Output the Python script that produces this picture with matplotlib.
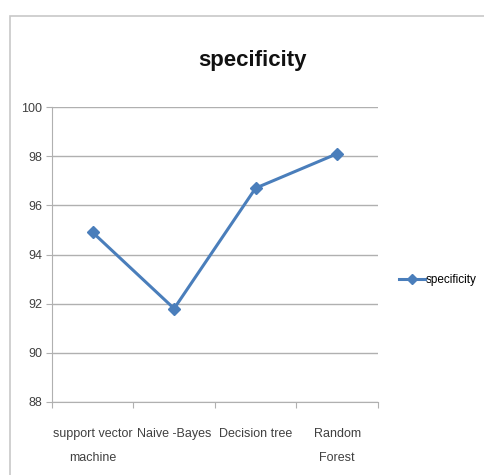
import matplotlib
matplotlib.use('Agg')
import matplotlib.pyplot as plt
from matplotlib.patches import Rectangle

# model names and their specificity (%)
models = ['support vector\nmachine', 'Naive -Bayes', 'Decision tree', 'Random\nForest']
specificity = [94.9, 91.8, 96.7, 98.1]
yticks = [88, 90, 92, 94, 96, 98, 100]

plt.rcParams['font.family'] = ['Liberation Sans Narrow', 'Liberation Sans', 'DejaVu Sans']

fig = plt.figure(figsize=(4.85, 4.75), dpi=100)
ax = fig.add_axes([0.107, 0.1537, 0.672, 0.621])

# outer chart frame
fig.patches.append(Rectangle((10 / 485, -0.05), 1.1, 1 - 16 / 475 + 0.05,
                             transform=fig.transFigure, fill=False,
                             edgecolor='#c8c8c8', linewidth=1.2))

x = range(len(models))
line, = ax.plot(x, specificity, color='#4a7ebb', linewidth=2.2, marker='D',
                markersize=6, markerfacecolor='#4a7ebb', label='specificity')

ax.set_xlim(-0.5, len(models) - 0.5)
ax.set_ylim(88, 100)
ax.set_yticks(yticks)
ax.set_yticklabels([str(v) for v in yticks], fontsize=9, color='#404040')
ax.yaxis.grid(True, color='#b0b0b0', linewidth=1)
ax.set_axisbelow(True)

ax.set_xticks([i + 0.5 for i in range(-1, len(models))], minor=False)
ax.set_xticklabels([])
ax.set_xticks(list(x), minor=True)
ax.set_xticklabels(models, minor=True, fontsize=9, color='#404040', linespacing=2.3)
ax.tick_params(axis='x', which='minor', length=0, pad=19)
ax.tick_params(axis='x', which='major', length=4, color='#b0b0b0', direction='out')
ax.tick_params(axis='y', length=4, color='#b0b0b0', pad=3)

for side in ['top', 'right']:
    ax.spines[side].set_visible(False)
for side in ['left', 'bottom']:
    ax.spines[side].set_color('#b0b0b0')

fig.text(0.52, 0.873, 'specificity', ha='center', va='center',
         fontsize=16, fontweight='bold', color='#111111')

fig.legend(handles=[line], loc='center left', bbox_to_anchor=(0.80, 0.41),
           frameon=False, fontsize=8.5, handlelength=2.2, handletextpad=0.1,
           markerscale=0.8)

fig.savefig('out.png', dpi=100, facecolor='white')
